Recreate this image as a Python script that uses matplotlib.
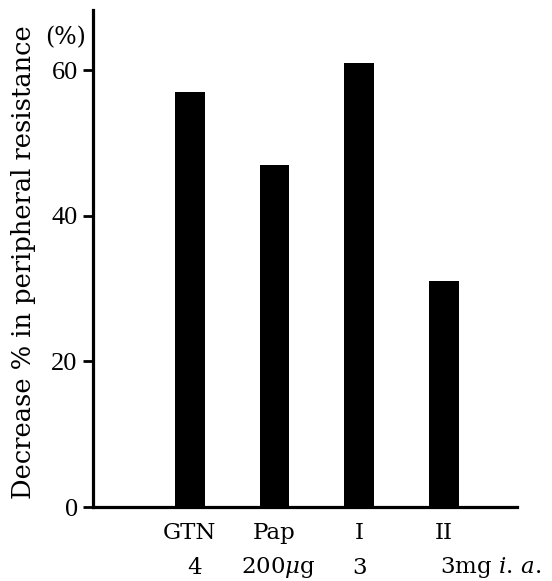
import matplotlib
matplotlib.use("Agg")
import matplotlib.pyplot as plt

categories = ["GTN", "Pap", "I", "II"]
doses = ["4", "200$\\mu$g", "3", "3mg $\\it{i.\\,a.}$"]
values = [57, 47, 61, 31]
yticks = [0, 20, 40, 60]

plt.rcParams['font.family'] = ['DejaVu Serif']
plt.rcParams['mathtext.fontset'] = 'dejavuserif'

W, H = 552, 581
fig = plt.figure(figsize=(W/100, H/100), dpi=100)
ax = fig.add_axes([93/W, 1-507/H, (517-93)/W, (507-10)/H])

x = list(range(len(categories)))
ax.bar(x, values, width=0.35, color='black')

ax.set_xlim(-1.14, 3.86)
ax.set_ylim(0, 68.3)
ax.set_yticks(yticks)
ax.set_yticklabels([str(v) for v in yticks], fontsize=19, family='Liberation Serif')
ax.set_xticks(x)
ax.set_xticklabels(categories, fontsize=16.5)
ax.tick_params(axis='x', length=0, pad=11)
ax.tick_params(axis='y', length=7, width=2, direction='out', pad=4)

for s in ['top', 'right']:
    ax.spines[s].set_visible(False)
for s in ['left', 'bottom']:
    ax.spines[s].set_linewidth(2.3)

trans = ax.get_xaxis_transform()
offsets = [0.06, 0.05, 0.0, -0.05]
for xi, d, off in zip(x, doses, offsets):
    ha = 'left' if xi == len(x) - 1 else 'center'
    ax.text(xi + off, -0.122, d, transform=trans, ha=ha, va='center', fontsize=16.5)

fig.text(24/W, 1-262/H, "Decrease % in peripheral resistance", rotation=90,
         ha='center', va='center', fontsize=18.5)
fig.text(86/W, 1-38/H, "(%)", ha='right', va='center', fontsize=17)

fig.savefig("out.png", dpi=100)
